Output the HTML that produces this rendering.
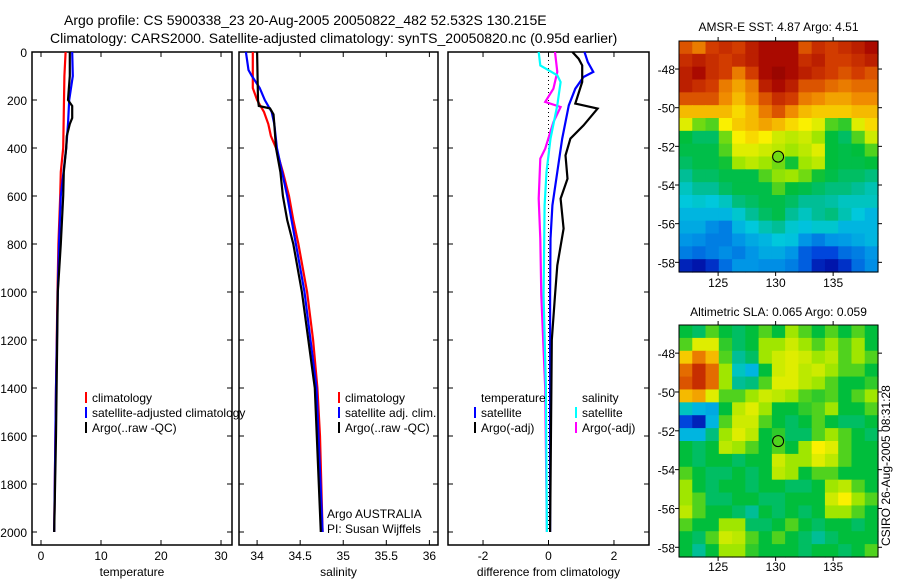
<!DOCTYPE html>
<html><head><meta charset="utf-8"><style>
body{margin:0;background:#fff;}
svg{display:block;font-family:"Liberation Sans",sans-serif;}
</style></head><body>
<svg id="fig" width="900" height="580" viewBox="0 0 900 580" xmlns="http://www.w3.org/2000/svg">
<rect width="900" height="580" fill="#fff"/>
<text x="64" y="25" font-size="14">Argo profile: CS 5900338_23 20-Aug-2005 20050822_482 52.532S 130.215E</text>
<text x="50" y="43" font-size="14">Climatology: CARS2000. Satellite-adjusted climatology: synTS_20050820.nc (0.95d earlier)</text>
<g id="plots"></g>
</svg>
<script>
// ---------- data ----------
const tempClimDepth = [0,100,400,500,600,800,1000,1400,2000];
const tempClim = [4.1,3.9,3.7,3.3,3.2,2.9,2.75,2.5,2.2];
const tempSatDepth = [0,100,200,300,400,600,800,1000,1400,1800,2000];
const tempSat = [5.2,5.3,4.7,4.5,4.2,3.3,3.0,2.8,2.5,2.3,2.2];
const tempArgoDepth = [0,100,200,225,275,300,350,400,500,600,800,1000,1400,1600,2000];
const tempArgo = [4.8,4.8,4.5,5.2,5.2,4.8,4.3,4.2,3.8,3.7,3.3,2.8,2.6,2.5,2.2];

const salClimDepth = [0,150,200,250,300,350,400,500,600,700,800,1000,1200,1400,1600,2000];
const salClim = [33.95,33.95,34.0,34.08,34.13,34.16,34.22,34.30,34.37,34.42,34.48,34.58,34.65,34.70,34.73,34.76];
const salSatDepth = [0,75,100,150,200,250,300,400,500,600,800,1000,1400,2000];
const salSat = [33.87,33.9,33.94,34.03,34.09,34.17,34.2,34.23,34.29,34.35,34.45,34.55,34.69,34.76];
const salArgoDepth = [0,200,225,235,260,300,400,500,600,700,800,1000,1400,2000];
const salArgo = [34.0,34.01,34.02,34.15,34.19,34.2,34.22,34.27,34.30,34.35,34.42,34.52,34.67,34.74];

const dTsatDepth = [0,42,83,104,153,222,361,500,639,778,1014,1400,2000];
const dTsat = [1.1,1.2,1.37,1.07,0.82,0.62,0.42,0.27,0.12,0.06,0.05,0.05,0.05];
const dTargoDepth = [0,28,56,125,215,236,306,361,431,528,611,736,889,1014,1200,2000];
const dTargo = [0.73,0.92,1.03,1.03,0.82,1.5,1.07,0.67,0.52,0.58,0.37,0.46,0.27,0.2,0.1,0.05];
const dSsatDepth = [0,56,97,125,222,361,500,639,1014,1400,2000];
const dSsat = [-0.3,-0.25,0.27,0.37,0.27,0.06,-0.06,-0.12,-0.15,-0.08,-0.05];
const dSargoDepth = [0,83,153,208,229,292,403,444,611,778,1014,1400,2000];
const dSargo = [0.2,0.27,0.15,-0.1,0.37,0.15,-0.1,-0.25,-0.3,-0.25,-0.22,-0.1,-0.05];

const sstGrid = [
[.85,.8,.88,.9,.88,.92,.95,.95,.95,.85,.9,.88,.9,.92,.95],
[.9,.92,.9,.88,.9,.92,.95,.95,.95,.9,.92,.88,.88,.9,.92],
[.92,.95,.9,.88,.8,.88,.95,.97,.95,.92,.9,.88,.85,.88,.85],
[.92,.9,.88,.8,.75,.8,.92,.95,.92,.85,.85,.82,.8,.82,.82],
[.85,.85,.85,.78,.72,.78,.85,.9,.88,.8,.78,.75,.75,.78,.78],
[.72,.72,.72,.72,.68,.72,.8,.85,.78,.72,.7,.7,.7,.72,.72],
[.62,.52,.5,.65,.7,.72,.75,.72,.68,.65,.62,.5,.48,.62,.68],
[.45,.42,.42,.52,.65,.68,.65,.6,.58,.6,.55,.45,.42,.5,.6],
[.44,.44,.44,.5,.62,.62,.6,.58,.55,.58,.62,.45,.44,.45,.5],
[.42,.44,.44,.46,.55,.58,.55,.52,.46,.55,.58,.45,.44,.44,.45],
[.38,.42,.42,.44,.44,.44,.5,.54,.55,.52,.46,.44,.42,.42,.4],
[.35,.38,.38,.42,.44,.44,.44,.5,.45,.44,.42,.4,.4,.38,.36],
[.33,.34,.33,.35,.4,.42,.44,.44,.42,.38,.38,.37,.35,.35,.35],
[.3,.3,.3,.3,.34,.38,.42,.44,.38,.35,.38,.4,.36,.33,.3],
[.28,.28,.24,.22,.3,.33,.36,.38,.34,.32,.34,.34,.3,.3,.3],
[.25,.24,.22,.22,.25,.28,.3,.33,.32,.25,.22,.25,.26,.28,.3],
[.22,.2,.22,.24,.22,.25,.28,.28,.25,.18,.15,.15,.2,.22,.25],
[.1,.08,.12,.2,.25,.25,.24,.24,.22,.18,.1,.08,.12,.2,.24]];
const slaGrid = [
[.45,.42,.5,.45,.42,.45,.5,.45,.55,.5,.45,.5,.45,.5,.45],
[.5,.62,.62,.48,.42,.45,.55,.55,.6,.55,.5,.55,.5,.55,.45],
[.7,.8,.72,.5,.38,.42,.55,.6,.62,.6,.55,.58,.5,.55,.5],
[.82,.9,.82,.55,.35,.3,.45,.6,.62,.58,.6,.55,.5,.5,.45],
[.85,.9,.82,.55,.38,.4,.5,.62,.62,.58,.55,.5,.45,.45,.48],
[.72,.75,.62,.5,.5,.55,.6,.58,.55,.5,.48,.5,.45,.5,.55],
[.35,.3,.28,.45,.58,.62,.55,.45,.45,.48,.5,.55,.45,.45,.5],
[.15,.1,.3,.5,.6,.6,.5,.45,.42,.45,.5,.45,.42,.42,.45],
[.3,.3,.4,.55,.62,.58,.45,.48,.42,.42,.5,.55,.5,.45,.42],
[.45,.42,.45,.58,.55,.5,.45,.5,.45,.55,.65,.62,.5,.45,.45],
[.45,.42,.45,.45,.42,.45,.45,.6,.55,.55,.62,.58,.5,.45,.45],
[.5,.45,.42,.42,.45,.42,.45,.58,.55,.45,.5,.5,.45,.45,.45],
[.55,.45,.42,.45,.45,.42,.45,.45,.42,.42,.45,.55,.58,.5,.45],
[.55,.5,.42,.42,.45,.45,.42,.42,.45,.45,.45,.6,.65,.55,.5],
[.58,.5,.45,.45,.42,.38,.45,.42,.45,.42,.45,.55,.55,.5,.45],
[.5,.45,.45,.55,.55,.42,.42,.45,.5,.45,.42,.45,.45,.42,.45],
[.45,.42,.5,.6,.58,.5,.45,.5,.45,.42,.38,.42,.45,.45,.45],
[.45,.38,.45,.55,.55,.48,.45,.45,.45,.42,.45,.45,.42,.45,.5]];
const floatLon = 130.215;
const floatLat = 52.532;

// ---------- helpers ----------
const NS = "http://www.w3.org/2000/svg";
const root = document.getElementById('plots');
function mk(tag, attrs, parent){const e=document.createElementNS(NS,tag);for(const k in attrs)e.setAttribute(k,attrs[k]);(parent||root).appendChild(e);return e;}
const cmapStops=[[0,[0,0,130]],[0.05,[0,0,150]],[0.15,[0,70,220]],[0.25,[0,150,230]],[0.33,[0,200,220]],[0.38,[0,190,150]],[0.45,[0,190,60]],[0.55,[160,230,0]],[0.65,[250,240,0]],[0.78,[240,140,0]],[0.88,[210,60,0]],[0.95,[170,10,0]],[1,[130,0,0]]];
function jet(v){v=Math.max(0,Math.min(1,v));
 for(let i=1;i<cmapStops.length;i++){const [a,ca]=cmapStops[i-1],[b,cb]=cmapStops[i];
  if(v<=b){const f=(v-a)/(b-a);return `rgb(${ca.map((x,k)=>Math.round(x+(cb[k]-x)*f)).join(',')})`;}}
 return 'rgb(130,0,0)';}

const PY0=52, PY1=545;
const depthY = d => 52 + d*0.24;

function panel(name, x0, x1, xmin, xmax, xticks, xlabels, xtitle, showY){
  const sx = v => x0 + (v-xmin)/(xmax-xmin)*(x1-x0);
  const g = mk('g',{});
  
  
  mk('rect',{x:x0,y:PY0,width:x1-x0,height:PY1-PY0,fill:'none',stroke:'#000','stroke-width':1.5},g);
  xticks.forEach((t,i)=>{const x=sx(t);
    mk('line',{x1:x,x2:x,y1:PY1,y2:PY1-5,stroke:'#000'},g);
    mk('line',{x1:x,x2:x,y1:PY0,y2:PY0+5,stroke:'#000'},g);
    const tx=mk('text',{x:x,y:PY1+15,'font-size':12,'text-anchor':'middle'},g);tx.textContent=xlabels[i];
    
    
  });
  const xt=mk('text',{x:(x0+x1)/2,y:PY1+31,'font-size':12,'text-anchor':'middle'},g);xt.textContent=xtitle;
  
  
  for(let d=0; d<=2000; d+=200){const y=depthY(d);
    mk('line',{x1:x0,x2:x0+5,y1:y,y2:y,stroke:'#000'},g);
    mk('line',{x1:x1,x2:x1-5,y1:y,y2:y,stroke:'#000'},g);
    if(showY){const t=mk('text',{x:x0-5,y:y+5,'font-size':12,'text-anchor':'end'},g);t.textContent=d;
      
      }
  }
  return {g, sx};
}
function series(p, depths, vals, color, name, w){
  const pts = depths.map((d,i)=>`${p.sx(vals[i]).toFixed(1)},${depthY(d).toFixed(1)}`).join(' ');
  const l = mk('polyline',{points:pts,fill:'none',stroke:color,'stroke-width':w||2.2},p.g);
  
  
}
function legendEntry(g,x,y,color,label){
  if(color) mk('line',{x1:x,x2:x,y1:y-10,y2:y+1,stroke:color,'stroke-width':2},g);
  const t=mk('text',{x:x+6,y:y,'font-size':12},g);t.textContent=label;
  
  
}

// ---------- panel 1: temperature ----------
const p1 = panel('temperature-panel',32,232,-1.5,31.83,[0,10,20,30],['0','10','20','30'],'temperature',true);
series(p1,tempClimDepth,tempClim,'#f00','temp-climatology-line');
series(p1,tempSatDepth,tempSat,'#00f','temp-satellite-line');
series(p1,tempArgoDepth,tempArgo,'#000','temp-argo-line');
legendEntry(p1.g,86,402,'#f00','climatology');
legendEntry(p1.g,86,417,'#00f','satellite-adjusted climatology');
legendEntry(p1.g,86,432,'#000','Argo(..raw -QC)');

// ---------- panel 2: salinity ----------
const p2 = panel('salinity-panel',239,438,33.79,36.1,[34,34.5,35,35.5,36],['34','34.5','35','35.5','36'],'salinity',false);
series(p2,salClimDepth,salClim,'#f00','sal-climatology-line');
series(p2,salSatDepth,salSat,'#00f','sal-satellite-line');
series(p2,salArgoDepth,salArgo,'#000','sal-argo-line');
legendEntry(p2.g,339,402,'#f00','climatology');
legendEntry(p2.g,339,417,'#00f','satellite adj. clim.');
legendEntry(p2.g,339,432,'#000','Argo(..raw -QC)');
legendEntry(p2.g,321,518,null,'Argo AUSTRALIA');
legendEntry(p2.g,321,533,null,'PI: Susan Wijffels');

// ---------- panel 3: differences ----------
const p3 = panel('difference-panel',448,649,-3.07,3.07,[-2,0,2],['-2','0','2'],'difference from climatology',false);
mk('line',{x1:p3.sx(0),x2:p3.sx(0),y1:PY0,y2:depthY(2000),stroke:'#000','stroke-dasharray':'1,3'},p3.g);
series(p3,dSargoDepth,dSargo,'#f0f','sal-argo-diff-line');
series(p3,dSsatDepth,dSsat,'#0ff','sal-satellite-diff-line');
series(p3,dTsatDepth,dTsat,'#00f','temp-satellite-diff-line');
series(p3,dTargoDepth,dTargo,'#000','temp-argo-diff-line');
legendEntry(p3.g,475,402,null,'temperature');
legendEntry(p3.g,475,417,'#00f','satellite');
legendEntry(p3.g,475,432,'#000','Argo(-adj)');
legendEntry(p3.g,576,402,null,'salinity');
legendEntry(p3.g,576,417,'#0ff','satellite');
legendEntry(p3.g,576,432,'#f0f','Argo(-adj)');

// ---------- maps ----------
function map(name, grid, shift, top, bottom, title, titleY, xlabY){
  const x0=679, x1=878, lonMin=121.6, lonMax=138.9, latMin=46.55, latMax=58.5;
  const sx = v => x0 + (v-lonMin)/(lonMax-lonMin)*(x1-x0);
  const sy = v => top + (v-latMin)/(latMax-latMin)*(bottom-top);
  const g = mk('g',{});
  
  
  const rows=grid.length, cols=grid[0].length;
  const cw=(x1-x0)/cols, ch=(bottom-top)/rows;
  grid.forEach((row,r)=>row.forEach((v,c)=>{
    const cell = mk('rect',{x:(x0+c*cw).toFixed(2),y:(top+r*ch).toFixed(2),width:(cw+0.6).toFixed(2),height:(ch+0.6).toFixed(2),fill:jet(v+shift)},g);
    
    
  }));
  mk('rect',{x:x0,y:top,width:x1-x0,height:bottom-top,fill:'none',stroke:'#000','stroke-width':1},g);
  [125,130,135].forEach(lon=>{const x=sx(lon);
    mk('line',{x1:x,x2:x,y1:top,y2:top-4,stroke:'#000'},g);
    mk('line',{x1:x,x2:x,y1:bottom,y2:bottom+4,stroke:'#000'},g);
    const t=mk('text',{x:x,y:xlabY,'font-size':12,'text-anchor':'middle'},g);t.textContent=lon;
    
    });
  [48,50,52,54,56,58].forEach(lat=>{const y=sy(lat);
    mk('line',{x1:x0,x2:x0-4,y1:y,y2:y,stroke:'#000'},g);
    mk('line',{x1:x1,x2:x1+4,y1:y,y2:y,stroke:'#000'},g);
    const t=mk('text',{x:x0-4,y:y+5,'font-size':12,'text-anchor':'end'},g);t.textContent='-'+lat;
    
    });
  const cx=sx(floatLon), cy=sy(floatLat);
  const r=Math.floor((floatLat-latMin)/(latMax-latMin)*rows), c=Math.floor((floatLon-lonMin)/(lonMax-lonMin)*cols);
  const m=mk('circle',{cx:cx,cy:cy,r:5.5,fill:jet(grid[r][c]+shift),stroke:'#000','stroke-width':1},g);
  
  
  const tt=mk('text',{x:(x0+x1)/2,y:titleY,'font-size':12,'text-anchor':'middle'},g);tt.textContent=title;
  
  
}
map('sst-map',sstGrid,0,41,272,'AMSR-E SST: 4.87 Argo: 4.51',31,287);
map('sla-map',slaGrid,0,325,557,'Altimetric SLA: 0.065 Argo: 0.059',316,571);
const st=mk('text',{x:0,y:0,'font-size':12,transform:'translate(890,546) rotate(-90)'});
st.textContent='CSIRO 26-Aug-2005 08:31:28';


</script>
</body></html>
